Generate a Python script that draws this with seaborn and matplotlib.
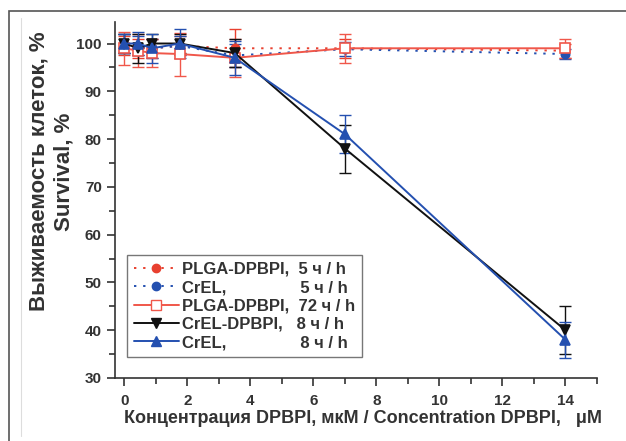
import numpy as np
import pandas as pd
import matplotlib
matplotlib.use("Agg")
import matplotlib.pyplot as plt
from matplotlib.patches import Rectangle
from matplotlib.lines import Line2D
from matplotlib.ticker import MultipleLocator
from matplotlib.font_manager import FontProperties
import seaborn as sns

# ---- data ----
conc = [0, 0.4375, 0.875, 1.75, 3.5, 7, 14]

plga_5h = [99.5, 99.0, 99.0, 99.5, 99.0, 99.0, 98.5]
plga_5h_err = [2.0, 2.0, 2.0, 2.0, 4.0, 2.0, 1.5]

crel_5h = [100.0, 99.5, 99.0, 99.5, 97.5, 98.8, 97.8]
crel_5h_err = [2.0, 2.0, 2.0, 2.0, 2.5, 1.5, 1.0]

plga_72h = [99.0, 98.5, 98.0, 97.8, 97.0, 99.0, 99.0]
plga_72h_err = [3.5, 3.5, 3.0, 4.5, 4.0, 3.0, 2.0]

crel_dpbpi_8h = [100.0, 99.0, 100.0, 100.0, 98.0, 78.0, 40.0]
crel_dpbpi_8h_err = [2.0, 3.0, 2.0, 2.0, 3.0, 5.0, 5.0]

crel_8h = [100.0, 100.0, 99.0, 100.0, 97.0, 81.0, 38.0]
crel_8h_err = [2.0, 2.5, 3.0, 3.0, 3.5, 4.0, 3.8]

label_names = ["PLGA-DPBPI,", "CrEL,", "PLGA-DPBPI,", "CrEL-DPBPI,", "CrEL,"]
label_times = ["5 ч / h", "5 ч / h", "72 ч / h", "8 ч / h", "8 ч / h"]

RED = "#e8402f"
RED2 = "#f0574a"
BLUE = "#2450b0"
BLACK = "#111111"
DOT = (0, (1.2, 3.5))

series = [
    dict(y=plga_5h, e=plga_5h_err, color=RED, ls=DOT, marker="o", mfc=RED, ms=6),
    dict(y=crel_5h, e=crel_5h_err, color=BLUE, ls=DOT, marker="o", mfc=BLUE, ms=6),
    dict(y=plga_72h, e=plga_72h_err, color=RED2, ls="-", marker="s", mfc="white", ms=6.5),
    dict(y=crel_dpbpi_8h, e=crel_dpbpi_8h_err, color=BLACK, ls="-", marker="v", mfc=BLACK, ms=7),
    dict(y=crel_8h, e=crel_8h_err, color=BLUE, ls="-", marker="^", mfc=BLUE, ms=7),
]

sns.set_style("ticks")
plt.rcParams["font.family"] = ["Liberation Sans", "DejaVu Sans"]
plt.rcParams["font.weight"] = "bold"

fig = plt.figure(figsize=(6.26, 4.41), dpi=100)
ax = fig.add_axes([115/626, 1 - 378/441, (597-115)/626, (378-22)/441])

# build aligned legend labels (pad with spaces to a common column)
LEG_FS = 12
renderer = fig.canvas.get_renderer()
fp = FontProperties(family="Liberation Sans", weight="bold", size=LEG_FS)
def tw(s):
    w, h, d = renderer.get_text_width_height_descent(s, fp, ismath=False)
    return w
space_w = (tw("x" + " " * 10 + "x") - tw("xx")) / 10.0
col = max(tw(n) for n in label_names) + 2 * space_w
labels = []
for n, t in zip(label_names, label_times):
    nsp = max(1, int(round((col - tw(n)) / space_w)))
    labels.append(n + " " * nsp + t)

handles = []
for s, lab in zip(series, labels):
    df = pd.DataFrame({"x": conc, "y": s["y"]})
    sns.lineplot(data=df, x="x", y="y", ax=ax, color=s["color"], linestyle=s["ls"],
                 linewidth=1.4, marker=s["marker"], markersize=s["ms"],
                 markerfacecolor=s["mfc"], markeredgecolor=s["color"], markeredgewidth=1.2,
                 legend=False, errorbar=None, zorder=3)
    ax.errorbar(conc, s["y"], yerr=s["e"], fmt="none", ecolor=s["color"],
                elinewidth=1.0, capsize=4, capthick=1.0, zorder=2)
    handles.append(Line2D([], [], color=s["color"], linestyle=s["ls"], linewidth=1.4,
                          marker=s["marker"], markersize=s["ms"], markerfacecolor=s["mfc"],
                          markeredgecolor=s["color"], label=lab))

ax.set_xlim(-0.3, 15)
ax.set_ylim(30, 104.5)
ax.xaxis.set_major_locator(MultipleLocator(2))
ax.xaxis.set_minor_locator(MultipleLocator(1))
ax.yaxis.set_major_locator(MultipleLocator(10))
ax.yaxis.set_minor_locator(MultipleLocator(5))
ax.tick_params(which="major", direction="out", length=6, width=1.2, colors="#333333",
               labelsize=11, labelcolor="#333333")
ax.tick_params(axis="x", which="major", pad=5.5)
ax.tick_params(which="minor", direction="out", length=4, width=1.2, colors="#333333")
for lab in ax.get_xticklabels() + ax.get_yticklabels():
    lab.set_fontweight("bold")
for sp in ["top", "right"]:
    ax.spines[sp].set_visible(False)
for sp in ["left", "bottom"]:
    ax.spines[sp].set_linewidth(1.2)
    ax.spines[sp].set_color("#333333")

ax.set_xlabel("Концентрация DPBPI, мкМ / Concentration DPBPI,   μM",
              fontsize=13, fontweight="bold", color="#333333")
ax.xaxis.set_label_coords(0.515, -0.09)
ax.set_ylabel("Выживаемость клеток, %\nSurvival, %", fontsize=16,
              fontweight="bold", color="#333333", linespacing=1.3)
ax.yaxis.set_label_coords(-0.083, 0.58)

leg = ax.legend(handles=handles, loc="lower left", bbox_to_anchor=(0.025, 0.059),
                borderaxespad=0, frameon=True, fancybox=False, edgecolor="#555555",
                prop={"family": "Liberation Sans", "weight": "bold", "size": LEG_FS},
                handlelength=2.7, labelspacing=0.2, borderpad=0.4, handletextpad=0.2)
leg.get_frame().set_linewidth(1.0)
for t in leg.get_texts():
    t.set_color("#333333")

# figure frame
fig.add_artist(Rectangle((9/626, -0.2), 1.2, 0.2 + 1 - 11/441, transform=fig.transFigure,
                         fill=False, edgecolor="#555555", linewidth=1.2))
fig.add_artist(Line2D([21/626, 21/626], [1 - 18/441, 1 - 436/441], transform=fig.transFigure,
                      color="#dddddd", linewidth=0.8))

fig.savefig("out.png", dpi=100)
